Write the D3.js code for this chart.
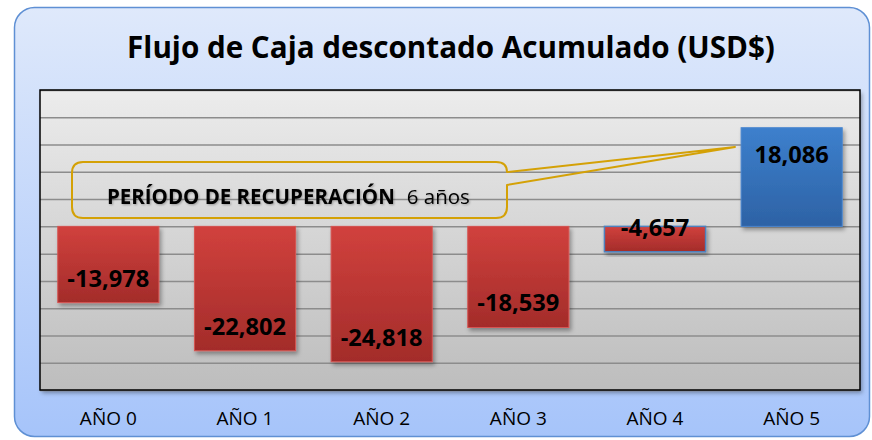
<!DOCTYPE html>
<meta charset="utf-8">
<script src="https://d3js.org/d3.v7.min.js"></script>
<style>
  body { margin: 0; background: #fff; }
  text { font-family: "Open Sans", Lato, sans-serif; }
</style>
<div id="chart"></div>
<script>

// data
var years = ["AÑO 0", "AÑO 1", "AÑO 2", "AÑO 3", "AÑO 4", "AÑO 5"];
var flujo = [-13978, -22802, -24818, -18539, -4657, 18086];
var gridTicks = [-30000, -25000, -20000, -15000, -10000, -5000, 0, 5000, 10000, 15000, 20000, 25000];
var titulo = "Flujo de Caja descontado Acumulado (USD$)";
var notaBold = "PERÍODO DE RECUPERACIÓN";
var notaValor = "6 años";

var W = 872, H = 440;
var plot = {left: 40, top: 90, right: 860, bottom: 390};

var fmt = d3.formatLocale({decimal: ".", thousands: ",", grouping: [3], currency: ["$", ""], minus: "-"}).format(",");

var svg = d3.select("#chart").append("svg")
    .attr("width", W)
    .attr("height", H);

// font size that makes a string a given width
function fitSize(str, weight, target) {
  var t = svg.append("text").style("font-size", "100px").style("font-weight", weight).text(str);
  var len = t.node().getComputedTextLength();
  t.remove();
  return 100 * target / len;
}

var defs = svg.append("defs");

function grad(id, c1, c2) {
  var g = defs.append("linearGradient").attr("id", id)
    .attr("x1", 0).attr("y1", 0).attr("x2", 0).attr("y2", 1);
  g.append("stop").attr("offset", "0%").attr("stop-color", c1);
  g.append("stop").attr("offset", "100%").attr("stop-color", c2);
}
grad("bgGrad", "#dfe9fb", "#a6c4fa");
grad("plotGrad", "#ececec", "#bdbdbd");
grad("redGrad", "#d1413d", "#a32c2a");
grad("blueGrad", "#3d80cd", "#2d62a5");

var shadow = defs.append("filter").attr("id", "shadow")
    .attr("x", "-10%").attr("y", "-10%").attr("width", "130%").attr("height", "130%");
shadow.append("feDropShadow")
    .attr("dx", 2).attr("dy", 3).attr("stdDeviation", 2)
    .attr("flood-color", "#000").attr("flood-opacity", 0.35);

var txtShadow = defs.append("filter").attr("id", "txtShadow");
txtShadow.append("feDropShadow")
    .attr("dx", 1).attr("dy", 1).attr("stdDeviation", 0.8)
    .attr("flood-color", "#000").attr("flood-opacity", 0.3);

// outer chart area
svg.append("rect")
    .attr("x", 14.5).attr("y", 7.5)
    .attr("width", 855).attr("height", 429)
    .attr("rx", 20)
    .attr("fill", "url(#bgGrad)")
    .attr("stroke", "#5f90d4")
    .attr("stroke-width", 1.5);

// title
svg.append("text")
    .attr("x", 451).attr("y", 58)
    .attr("text-anchor", "middle")
    .style("font-size", fitSize(titulo, "bold", 648) + "px")
    .style("font-weight", "bold")
    .attr("fill", "#000")
    .text(titulo);

// scales
var x = d3.scaleBand()
    .domain(years)
    .range([plot.left, plot.right])
    .paddingInner(0.26)
    .paddingOuter(0.13);

var y = d3.scaleLinear()
    .domain([-30000, 25000])
    .range([plot.bottom, plot.top]);

// plot area
svg.append("rect")
    .attr("x", plot.left).attr("y", plot.top)
    .attr("width", plot.right - plot.left)
    .attr("height", plot.bottom - plot.top)
    .attr("fill", "url(#plotGrad)")
    .attr("filter", "url(#shadow)");

// gridlines
var grid = svg.append("g")
    .attr("transform", "translate(" + plot.left + ",0)")
    .call(d3.axisLeft(y).tickValues(gridTicks).tickSize(-(plot.right - plot.left)).tickFormat(""));
grid.select(".domain").remove();
grid.selectAll("line").attr("stroke", "#8c8c8c").attr("stroke-width", 1.5);

svg.append("rect")
    .attr("x", plot.left).attr("y", plot.top)
    .attr("width", plot.right - plot.left)
    .attr("height", plot.bottom - plot.top)
    .attr("fill", "none")
    .attr("stroke", "#000")
    .attr("stroke-width", 1.5);

// bars
svg.selectAll(".bar")
  .data(flujo)
  .enter()
  .append("rect")
    .attr("class", "bar")
    .attr("x", function(d, i) { return x(years[i]); })
    .attr("width", x.bandwidth())
    .attr("y", function(d) { return y(Math.max(d, 0)); })
    .attr("height", function(d) { return Math.abs(y(d) - y(0)); })
    .attr("fill", function(d) { return d < 0 ? "url(#redGrad)" : "url(#blueGrad)"; })
    .attr("stroke", function(d, i) { return i == 4 ? "#4f81bd" : (d < 0 ? "#d65552" : "#4a86cf"); })
    .attr("stroke-width", function(d, i) { return i == 4 ? 1.5 : 1; })
    .attr("filter", "url(#shadow)");

// value labels
var lblSize = fitSize("-22,802", "bold", 82);
svg.selectAll(".lbl")
  .data(flujo)
  .enter()
  .append("text")
    .attr("class", "lbl")
    .attr("x", function(d, i) { return x(years[i]) + x.bandwidth() / 2; })
    .attr("y", function(d) { return d < 0 ? y(d) - 16 : y(d) + 35; })
    .attr("text-anchor", "middle")
    .style("font-size", lblSize + "px")
    .style("font-weight", "bold")
    .attr("fill", "#000")
    .text(function(d) { return fmt(d); });

// x axis labels
var xAxis = svg.append("g")
    .attr("transform", "translate(0," + plot.bottom + ")")
    .call(d3.axisBottom(x).tickSize(0).tickPadding(21));
xAxis.select(".domain").remove();
xAxis.selectAll("text")
    .style("font-family", "'Open Sans', Lato, sans-serif")
    .style("font-size", fitSize("AÑO 0", "normal", 57) + "px")
    .attr("fill", "#000");

// callout
var c = {x0: 72, y0: 162, x1: 507, y1: 218, r: 11, tipX: 735, tipY: 147, a1: 172, a2: 185};
var p = d3.path();
p.moveTo(c.x0 + c.r, c.y0);
p.lineTo(c.x1 - c.r, c.y0);
p.quadraticCurveTo(c.x1, c.y0, c.x1, c.a1);
p.lineTo(c.tipX, c.tipY);
p.lineTo(c.x1, c.a2);
p.lineTo(c.x1, c.y1 - c.r);
p.quadraticCurveTo(c.x1, c.y1, c.x1 - c.r, c.y1);
p.lineTo(c.x0 + c.r, c.y1);
p.quadraticCurveTo(c.x0, c.y1, c.x0, c.y1 - c.r);
p.lineTo(c.x0, c.y0 + c.r);
p.quadraticCurveTo(c.x0, c.y0, c.x0 + c.r, c.y0);
p.closePath();

svg.append("path")
    .attr("d", p.toString())
    .attr("fill", "none")
    .attr("stroke", "#d4a106")
    .attr("stroke-width", 2)
    .attr("stroke-linejoin", "round");

var notaSize = fitSize(notaBold, "bold", 288);
var nota = svg.append("text")
    .attr("x", 107).attr("y", 204)
    .style("font-size", notaSize + "px")
    .attr("fill", "#000")
    .attr("filter", "url(#txtShadow)");
nota.append("tspan").style("font-weight", "bold").text(notaBold);
nota.append("tspan").attr("dx", 12).text(notaValor);

</script>
